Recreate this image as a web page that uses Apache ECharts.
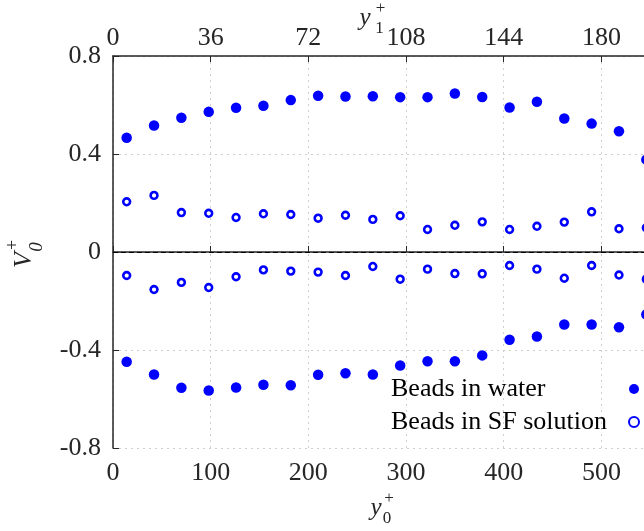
<!DOCTYPE html>
<html>
<head>
<meta charset="utf-8">
<script src="https://cdn.jsdelivr.net/npm/echarts@6/dist/echarts.min.js"></script>
<style>
  html, body { margin: 0; padding: 0; background: #fff; }
  #chart { width: 644px; height: 531px; }
</style>
</head>
<body>
<div id="chart"></div>
<script>
// bin centres along the wall-normal coordinate (y0+)
const y0Plus = [14, 42, 70, 98, 126, 154, 182, 210, 238, 266, 294, 322, 350, 378, 406, 434, 462, 490, 518, 546];

// beads in water: upper / lower branch
const waterUpper = [0.466, 0.516, 0.548, 0.572, 0.589, 0.597, 0.620, 0.638, 0.635, 0.636, 0.632, 0.632, 0.647, 0.633, 0.590, 0.613, 0.545, 0.524, 0.493, 0.377];
const waterLower = [-0.448, -0.500, -0.554, -0.565, -0.553, -0.542, -0.544, -0.501, -0.495, -0.500, -0.463, -0.446, -0.446, -0.422, -0.358, -0.345, -0.296, -0.296, -0.307, -0.255];

// beads in SF solution: upper / lower branch
const sfUpper = [0.205, 0.231, 0.161, 0.158, 0.141, 0.156, 0.153, 0.138, 0.150, 0.133, 0.148, 0.092, 0.109, 0.123, 0.092, 0.105, 0.122, 0.164, 0.095, 0.099];
const sfLower = [-0.096, -0.153, -0.124, -0.145, -0.101, -0.073, -0.078, -0.082, -0.096, -0.059, -0.111, -0.070, -0.088, -0.089, -0.055, -0.070, -0.107, -0.055, -0.094, -0.111];

const seriesNames = ['Beads in water', 'Beads in SF solution'];

// axis ranges / ticks
const xMax = 560;
const xStep = 100;
const y1Scale = 0.36;   // y1+ = 0.36 * y0+
const y1Step = 36;
const yMin = -0.8, yMax = 0.8, yStep = 0.4;

const FONT = '"Liberation Serif", "DejaVu Serif", serif';
const AX = '#262626';
const BLUE = '#0000ff';

function pairs(xs, a, b) {
  const out = [];
  xs.forEach((x, i) => { out.push([x, a[i]]); });
  xs.forEach((x, i) => { out.push([x, b[i]]); });
  return out;
}

const chart = echarts.init(document.getElementById('chart'), null, { renderer: 'canvas' });

const axisCommon = {
  type: 'value',
  axisLine: { show: true, lineStyle: { color: AX, width: 1.5 } },
  axisTick: { show: true, inside: true, length: 6, lineStyle: { color: AX, width: 1 } },
  axisLabel: { fontFamily: FONT, fontSize: 26, color: AX }
};
const gridLine = { show: true, lineStyle: { color: '#cfcfcf', width: 1, type: [2, 4] } };

chart.setOption({
  animation: false,
  backgroundColor: '#fff',
  // plot frame runs past the right edge of the picture
  grid: { left: 113, top: 56, width: 547, bottom: 83, containLabel: false, outerBoundsMode: 'none' },
  xAxis: [
    Object.assign({}, axisCommon, {
      position: 'bottom', min: 0, max: xMax, interval: xStep,
      axisLabel: Object.assign({}, axisCommon.axisLabel, { margin: 12, showMaxLabel: false }),
      splitLine: gridLine
    }),
    Object.assign({}, axisCommon, {
      position: 'top', min: 0, max: xMax * y1Scale, interval: y1Step,
      axisLabel: Object.assign({}, axisCommon.axisLabel, { margin: 5, showMaxLabel: false }),
      splitLine: { show: false }
    })
  ],
  yAxis: Object.assign({}, axisCommon, {
    min: yMin, max: yMax, interval: yStep,
    axisLabel: Object.assign({}, axisCommon.axisLabel, { margin: 12 }),
    splitLine: gridLine
  }),
  legend: {
    orient: 'vertical',
    right: 4,
    top: 376,
    padding: 0,
    align: 'right',
    itemWidth: 10,
    itemHeight: 10,
    itemGap: 7,
    formatter: '{t|{name}}',
    textStyle: {
      fontFamily: FONT, fontSize: 26, color: '#000',
      rich: { t: { width: 233, align: 'left', fontFamily: FONT, fontSize: 26, color: '#000', lineHeight: 26 } }
    },
    data: [
      { name: seriesNames[0], icon: 'circle' },
      { name: seriesNames[1], icon: 'circle' }
    ]
  },
  series: [
    {
      name: seriesNames[0],
      type: 'scatter',
      symbol: 'circle',
      symbolSize: 10.5,
      itemStyle: { color: BLUE, opacity: 1 },
      data: pairs(y0Plus, waterUpper, waterLower),
      markLine: {
        silent: true,
        symbol: ['none', 'none'],
        label: { show: false },
        lineStyle: { color: '#000', type: [5, 3], width: 1.2, opacity: 1 },
        data: [{ yAxis: 0 }]
      }
    },
    {
      name: seriesNames[1],
      type: 'scatter',
      symbol: 'circle',
      symbolSize: 6.8,
      itemStyle: { color: '#fff', borderColor: BLUE, borderWidth: 2.6, opacity: 1 },
      data: pairs(y0Plus, sfUpper, sfLower)
    }
  ],
  graphic: [
    // top axis title y1+
    { type: 'text', x: 365, y: 18, style: { text: 'y', font: 'italic 25px ' + FONT, fill: AX, align: 'center', verticalAlign: 'middle' } },
    { type: 'text', x: 379.5, y: 29, style: { text: '1', font: '17px ' + FONT, fill: AX, align: 'center', verticalAlign: 'middle' } },
    { type: 'text', x: 380.5, y: 9, style: { text: '+', font: '17px ' + FONT, fill: AX, align: 'center', verticalAlign: 'middle' } },
    // bottom axis title y0+
    { type: 'text', x: 376, y: 508, style: { text: 'y', font: 'italic 25px ' + FONT, fill: AX, align: 'center', verticalAlign: 'middle' } },
    { type: 'text', x: 387, y: 519, style: { text: '0', font: '17px ' + FONT, fill: AX, align: 'center', verticalAlign: 'middle' } },
    { type: 'text', x: 389, y: 499, style: { text: '+', font: '17px ' + FONT, fill: AX, align: 'center', verticalAlign: 'middle' } },
    // left axis title V0+ (rotated)
    { type: 'text', x: 24, y: 260, rotation: Math.PI / 2, style: { text: 'V', font: 'italic 26px ' + FONT, fill: AX, align: 'center', verticalAlign: 'middle' } },
    { type: 'text', x: 37, y: 247, rotation: Math.PI / 2, style: { text: '0', font: 'italic 19px ' + FONT, fill: AX, align: 'center', verticalAlign: 'middle' } },
    { type: 'text', x: 13.5, y: 245, rotation: Math.PI / 2, style: { text: '+', font: '18px ' + FONT, fill: AX, align: 'center', verticalAlign: 'middle' } }
  ]
});
</script>
</body>
</html>
